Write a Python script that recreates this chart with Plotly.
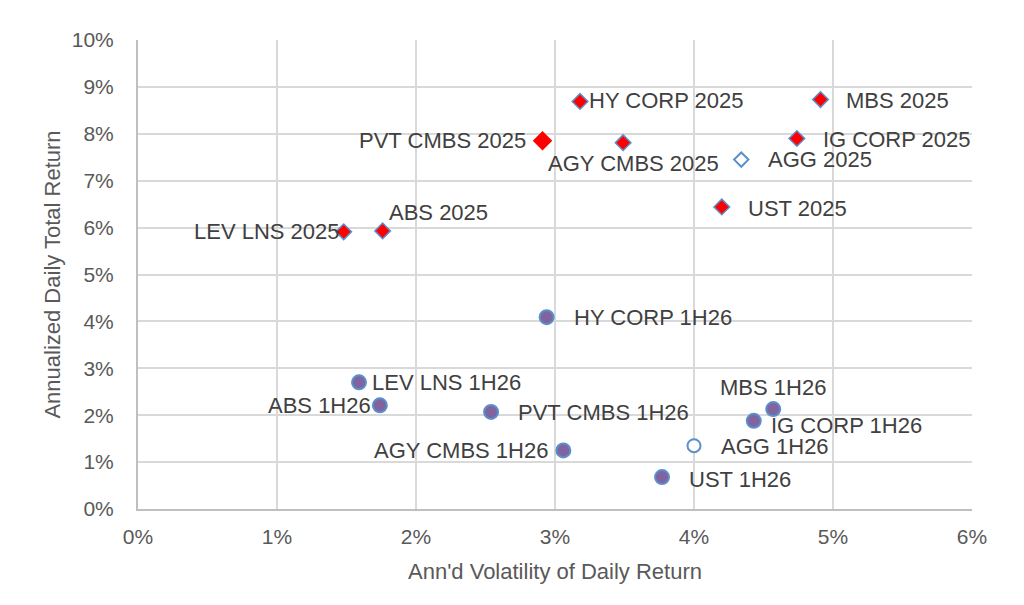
import plotly.graph_objects as go

# 2025 points (annualized vol, total return), in %
names_2025 = ["HY CORP 2025", "MBS 2025", "IG CORP 2025", "AGG 2025", "UST 2025",
              "PVT CMBS 2025", "AGY CMBS 2025", "ABS 2025", "LEV LNS 2025"]
vol_2025 = [3.18, 4.91, 4.74, 4.34, 4.20, 2.91, 3.49, 1.76, 1.48]
ret_2025 = [8.69, 8.73, 7.90, 7.45, 6.44, 7.85, 7.81, 5.93, 5.91]

# 1H26 points
names_1h26 = ["HY CORP 1H26", "LEV LNS 1H26", "ABS 1H26", "PVT CMBS 1H26", "AGY CMBS 1H26",
              "MBS 1H26", "IG CORP 1H26", "AGG 1H26", "UST 1H26"]
vol_1h26 = [2.94, 1.59, 1.74, 2.54, 3.06, 4.57, 4.43, 4.00, 3.77]
ret_1h26 = [4.09, 2.70, 2.21, 2.07, 1.25, 2.13, 1.88, 1.35, 0.68]

x_ticks = [0, 1, 2, 3, 4, 5, 6]
y_ticks = [0, 1, 2, 3, 4, 5, 6, 7, 8, 9, 10]

BLUE = "#5B8FCB"
RED = "#FF0000"
PURPLE = "#7F64A0"
LABEL = "#404040"
GREY = "#595959"
FONT = "Liberation Sans, Arial"

# label placement: (xanchor, xshift, yshift)
place_2025 = {
    "HY CORP 2025": ("left", 7, 1),
    "MBS 2025": ("left", 24, -1),
    "IG CORP 2025": ("left", 24, -1),
    "AGG 2025": ("left", 25, 0),
    "UST 2025": ("left", 24, -2),
    "PVT CMBS 2025": ("right", -14, 0),
    "AGY CMBS 2025": ("center", 10, -21),
    "ABS 2025": ("left", 4, 18),
    "LEV LNS 2025": ("right", -2, 0),
}
place_1h26 = {
    "HY CORP 1H26": ("left", 25, 0),
    "LEV LNS 1H26": ("left", 11, 0),
    "ABS 1H26": ("right", -7, 0),
    "PVT CMBS 1H26": ("left", 25, -1),
    "AGY CMBS 1H26": ("right", -13, 0),
    "MBS 1H26": ("center", 0, 22),
    "IG CORP 1H26": ("left", 15, -5),
    "AGG 1H26": ("left", 25, -1),
    "UST 1H26": ("left", 25, -2),
}

fig = go.Figure()

# 1H26 circles (AGG is hollow)
solid = [i for i, n in enumerate(names_1h26) if not n.startswith("AGG")]
hollow = [i for i, n in enumerate(names_1h26) if n.startswith("AGG")]
fig.add_trace(go.Scatter(
    x=[vol_1h26[i] for i in solid], y=[ret_1h26[i] for i in solid],
    mode="markers",
    marker=dict(symbol="circle", size=14, color=PURPLE, line=dict(color=BLUE, width=2)),
    showlegend=False, hoverinfo="skip"))
fig.add_trace(go.Scatter(
    x=[vol_1h26[i] for i in hollow], y=[ret_1h26[i] for i in hollow],
    mode="markers",
    marker=dict(symbol="circle", size=13, color="white", line=dict(color=BLUE, width=2)),
    showlegend=False, hoverinfo="skip"))

# 2025 diamonds
outlined = [i for i, n in enumerate(names_2025) if n not in ("AGG 2025", "PVT CMBS 2025")]
fig.add_trace(go.Scatter(
    x=[vol_2025[i] for i in outlined], y=[ret_2025[i] for i in outlined],
    mode="markers",
    marker=dict(symbol="diamond", size=12, color=RED, line=dict(color=BLUE, width=1.5)),
    showlegend=False, hoverinfo="skip"))
agg = names_2025.index("AGG 2025")
fig.add_trace(go.Scatter(
    x=[vol_2025[agg]], y=[ret_2025[agg]],
    mode="markers",
    marker=dict(symbol="diamond", size=11, color="white", line=dict(color=BLUE, width=2)),
    showlegend=False, hoverinfo="skip"))
pvt = names_2025.index("PVT CMBS 2025")
fig.add_trace(go.Scatter(
    x=[vol_2025[pvt]], y=[ret_2025[pvt]],
    mode="markers",
    marker=dict(symbol="diamond", size=15, color=RED),
    showlegend=False, hoverinfo="skip"))

annotations = []
for names, xs, ys, place in [(names_2025, vol_2025, ret_2025, place_2025),
                             (names_1h26, vol_1h26, ret_1h26, place_1h26)]:
    for n, x, y in zip(names, xs, ys):
        anchor, dx, dy = place[n]
        annotations.append(dict(
            x=x, y=y, text=n, showarrow=False, xanchor=anchor, yanchor="middle",
            xshift=dx, yshift=dy,
            font=dict(family=FONT, size=22, color=LABEL)))

# page body has an 8px margin, so the plot margins are offset to compensate
fig.update_layout(
    width=1024, height=605,
    paper_bgcolor="white", plot_bgcolor="white",
    margin=dict(l=130, r=60, t=32, b=104),
    font=dict(family=FONT, size=21, color=GREY),
    annotations=annotations,
    xaxis=dict(
        range=[0, 6], tickvals=x_ticks, ticktext=[f"{v}%" for v in x_ticks],
        showgrid=True, gridcolor="#D9D9D9", gridwidth=2,
        showline=True, linecolor="#BFBFBF", linewidth=2,
        zeroline=False, ticks="", ticklabelstandoff=8,
        tickfont=dict(size=21, color=GREY),
        title=dict(text="Ann'd Volatility of Daily Return", standoff=16,
                   font=dict(size=22, color=GREY)),
    ),
    yaxis=dict(
        range=[0, 10], tickvals=y_ticks, ticktext=[f"{v}%" for v in y_ticks],
        showgrid=True, gridcolor="#D9D9D9", gridwidth=2,
        showline=True, linecolor="#BFBFBF", linewidth=2,
        zeroline=False, ticks="", ticklabelstandoff=18,
        tickfont=dict(size=21, color=GREY),
        title=dict(text="Annualized Daily Total Return", standoff=5,
                   font=dict(size=22, color=GREY)),
    ),
)

fig.write_html("out.html")
